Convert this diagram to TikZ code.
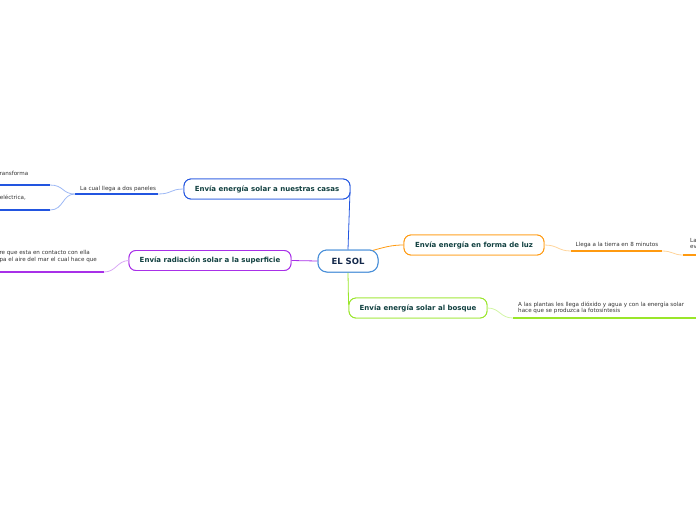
\documentclass[tikz,border=0pt]{standalone}
\usepackage{fontspec}
\setmainfont{DejaVu Sans}
\definecolor{sunblue}{HTML}{4A90D9}
\definecolor{casablue}{HTML}{2255E0}
\definecolor{casalight}{HTML}{9DB8F5}
\definecolor{radpurple}{HTML}{A830E8}
\definecolor{radlight}{HTML}{D9A8F5}
\definecolor{luzorange}{HTML}{FF9A10}
\definecolor{luzlight}{HTML}{FFD49A}
\definecolor{bosqgreen}{HTML}{99E62A}
\definecolor{bosqlight}{HTML}{D2F5A5}
\definecolor{topictext}{HTML}{114040}
\definecolor{suntext}{HTML}{13284A}
\definecolor{smalltext}{HTML}{333333}
\tikzset{
  topicbox/.style={draw, line width=0.9pt, rounded corners=7pt, fill=white, minimum height=20pt, inner sep=0pt, text=topictext, font=\fontsize{7}{8}\selectfont\bfseries},
  sunbox/.style={draw=sunblue, line width=1pt, rounded corners=9pt, fill=white, minimum width=60pt, minimum height=22pt, inner sep=0pt, text=suntext, font=\fontsize{8.5}{9}\selectfont\bfseries},
  smalltxt/.style={text=smalltext, inner sep=0pt, font=\fontsize{5.6}{6.2}\selectfont, align=left},
  uline/.style={line width=1.1pt},
  conn/.style={line width=0.8pt}
}
\begin{document}
\begin{tikzpicture}[x=1pt,y=-1pt]
\useasboundingbox (0,0) rectangle (696,520);
\clip (0,0) rectangle (696,520);
% central node
\node[sunbox] (sol) at (348,261) {EL SOL};
% topic boxes
\node[topicbox, draw=casablue, minimum width=166pt] (casas) at (267,189) {Envía energía solar a nuestras casas};
\node[topicbox, draw=radpurple, minimum width=162pt] (rad) at (210,260.5) {Envía radiación solar a la superficie};
\node[topicbox, draw=luzorange, minimum width=140pt] (luz) at (474,245) {Envía energía en forma de luz};
\node[topicbox, draw=bosqgreen, minimum width=138pt] (bosque) at (418,308) {Envía energía solar al bosque};
% coordinates for underlines
\coordinate (c1a) at (158,194); \coordinate (c1b) at (75,194);
\coordinate (c2a) at (50,185); \coordinate (c2b) at (-5,185);
\coordinate (c3a) at (50,210); \coordinate (c3b) at (-5,210);
\coordinate (r1a) at (104,272); \coordinate (r1b) at (-5,272);
\coordinate (l1a) at (571,251); \coordinate (l1b) at (662,251);
\coordinate (l2a) at (683,255); \coordinate (l2b) at (700,255);
\coordinate (b1a) at (513,318); \coordinate (b1b) at (700,318);
% main connectors
\draw[conn, casablue] (sol.north) -- ([xshift=-0.5pt,yshift=7pt]casas.south east);
\draw[conn, radpurple] (sol.west) -- (rad.east);
\draw[conn, luzorange] ([xshift=-6pt,yshift=-1pt]sol.north east) .. controls (385,247) and (392,245) .. (luz.west);
\draw[conn, bosqgreen] (sol.south) -- ([xshift=0pt,yshift=-7pt]bosque.north west);
% redraw nodes above connectors
\node[sunbox] at (sol) {EL SOL};
\node[topicbox, draw=casablue, minimum width=166pt] at (casas) {Envía energía solar a nuestras casas};
\node[topicbox, draw=radpurple, minimum width=162pt] at (rad) {Envía radiación solar a la superficie};
\node[topicbox, draw=luzorange, minimum width=140pt] at (luz) {Envía energía en forma de luz};
\node[topicbox, draw=bosqgreen, minimum width=138pt] at (bosque) {Envía energía solar al bosque};
% casas subtree
\draw[conn, casalight] (casas.west) .. controls (170,189) and (172,194) .. (c1a);
\draw[uline, casablue] (c1a) -- (c1b);
\node[smalltxt, anchor=south west] (t1) at (80,191.5) {La cual llega a dos paneles};
\draw[conn, casalight] (c1b) .. controls (62,194) and (64,185) .. (c2a);
\draw[conn, casalight] (c1b) .. controls (62,194) and (64,210) .. (c3a);
\draw[uline, casablue] (c2a) -- (c2b);
\draw[uline, casablue] (c3a) -- (c3b);
\node[smalltxt, anchor=east] (t2) at (28.5,173) {ransforma};
\node[smalltxt, anchor=east] (t3) at (26,198) {eléctrica,};
% radiacion subtree
\draw[conn, radlight] (rad.west) .. controls (117,261) and (116,272) .. (r1a);
\draw[uline, radpurple] (r1a) -- (r1b);
\node[smalltxt, anchor=north east] (t4) at (97,250.5) {re que esta en contacto con ella\\pa el aire del mar el cual hace que};
% luz subtree
\draw[conn, luzlight] (luz.east) .. controls (558,245) and (558,251) .. (l1a);
\draw[uline, luzorange] (l1a) -- (l1b);
\node[smalltxt, anchor=south west] (t5) at (575.5,247.5) {Llega a la tierra en 8 minutos};
\draw[conn, luzlight] (l1b) .. controls (673,251) and (673,255) .. (l2a);
\draw[uline, luzorange] (l2a) -- (l2b);
\node[smalltxt, anchor=north west] (t6) at (690,238.5) {La\\ev};
% bosque subtree
\draw[conn, bosqlight] (bosque.east) .. controls (500,308) and (500,318) .. (b1a);
\draw[uline, bosqgreen] (b1a) -- (b1b);
\node[smalltxt, anchor=north west] (t7) at (518,302) {A las plantas les llega dióxido y agua y con la energía solar\\hace que se produzca la fotosíntesis};
\end{tikzpicture}
\end{document}
